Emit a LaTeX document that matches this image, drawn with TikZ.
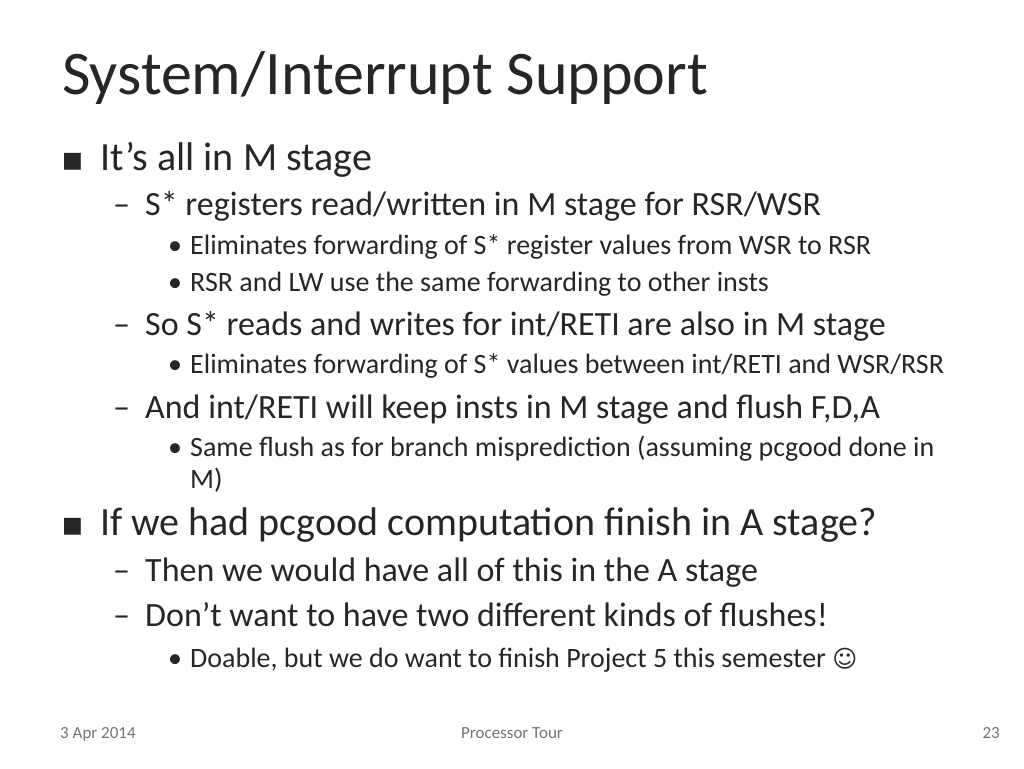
\documentclass[tikz,border=0pt]{standalone}
\usepackage{fontspec}
\setmainfont{Carlito}
\newfontfamily\symf{DejaVu Sans}
\begin{document}
\begin{tikzpicture}[x=1pt,y=-1pt,
  every node/.style={anchor=base west,inner sep=0pt,text=black!85},
  ttl/.style={font=\fontsize{62}{62}\selectfont},
  la/.style={font=\fontsize{40}{40}\selectfont},
  lb/.style={font=\fontsize{34}{34}\selectfont},
  lc/.style={font=\fontsize{28}{28}\selectfont},
  ft/.style={font=\fontsize{17}{17}\selectfont,text=black!55}]
\useasboundingbox (0,0) rectangle (1024,768);
\node[ttl] (t) at (62,94) {System/Interrupt Support};
\node[lc] (b1) at (62,167) {\symf\fontsize{22}{22}\selectfont ■};
\node[la] (a1) at (100,170) {It’s all in M stage};
\node[lb] (d1) at (113,215) {–};
\node[lb] (a2) at (145,215) {S* registers read/written in M stage for RSR/WSR};
\node[lc] (p1) at (168,254) {•};
\node[lc] (a3) at (190,254) {Eliminates forwarding of S* register values from WSR to RSR};
\node[lc] (p2) at (168,291) {•};
\node[lc] (a4) at (190,291) {RSR and LW use the same forwarding to other insts};
\node[lb] (d2) at (113,335) {–};
\node[lb] (a5) at (145,335) {So S* reads and writes for int/RETI are also in M stage};
\node[lc] (p3) at (168,373) {•};
\node[lc] (a6) at (190,373) {Eliminates forwarding of S* values between int/RETI and WSR/RSR};
\node[lb] (d3) at (113,418) {–};
\node[lb] (a7) at (145,418) {And int/RETI will keep insts in M stage and flush F,D,A};
\node[lc] (p4) at (168,456) {•};
\node[lc] (a8) at (190,456) {Same flush as for branch misprediction (assuming pcgood done in};
\node[lc] (a9) at (190,488) {M)};
\node[lc] (b2) at (62,532) {\symf\fontsize{22}{22}\selectfont ■};
\node[la] (a10) at (100,535) {If we had pcgood computation finish in A stage?};
\node[lb] (d4) at (113,581) {–};
\node[lb] (a11) at (145,581) {Then we would have all of this in the A stage};
\node[lb] (d5) at (113,626) {–};
\node[lb] (a12) at (145,626) {Don’t want to have two different kinds of flushes!};
\node[lc] (p5) at (168,667) {•};
\node[lc] (a13) at (190,667) {Doable, but we do want to finish Project 5 this semester {\symf\fontsize{24}{24}\selectfont ☺}};
\node[ft] (f1) at (60,738) {3 Apr 2014};
\node[ft,anchor=base] (f2) at (512,738) {Processor Tour};
\node[ft,anchor=base east] (f3) at (1000,738) {23};
\end{tikzpicture}
\end{document}
